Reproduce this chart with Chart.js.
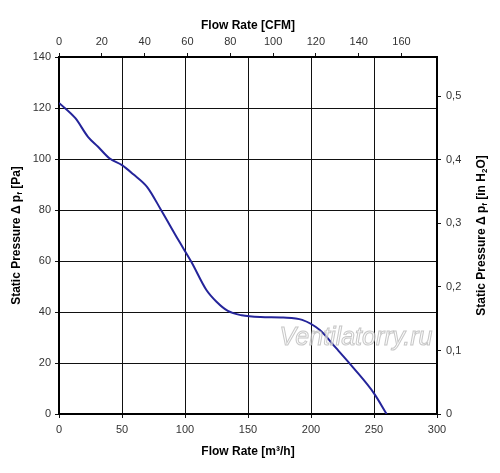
<!DOCTYPE html>
<html>
<head>
<meta charset="utf-8">
<script src="https://cdn.jsdelivr.net/npm/chart.js@4.4.1/dist/chart.umd.min.js"></script>
<style>
  html, body { margin: 0; padding: 0; background: #fff; }
  #wrap { width: 500px; height: 473px; }
</style>
</head>
<body>
<div id="wrap"><canvas id="fanChart" width="500" height="473"></canvas></div>
<script>
// fan curve: flow rate [m3/h] vs static pressure [Pa]
const flowRate = [0, 13, 23, 31, 40, 50, 59, 70, 81, 95, 105, 117, 125, 134, 145, 160, 178, 193, 207, 220, 234, 250, 260];
const pressure = [122, 116, 108.7, 104.8, 100.3, 97.6, 94, 89, 80, 68, 59.7, 48.6, 44, 40.4, 38.7, 38, 37.8, 36.9, 32.9, 25.8, 17.9, 8.1, 0];

const flowTicks = [0, 50, 100, 150, 200, 250, 300];
const pressureTicks = [0, 20, 40, 60, 80, 100, 120, 140];
const cfmTicks = [0, 20, 40, 60, 80, 100, 120, 140, 160];
const inchTicks = [0, 0.1, 0.2, 0.3, 0.4, 0.5];

const M3H_PER_CFM = 1.699;
const INH2O_PER_PA = 0.004015;

const FAMILY = "Liberation Sans, Arial, sans-serif";
const tickFont = { family: FAMILY, size: 11 };
const titleFont = { family: FAMILY, size: 12, weight: "bold" };

// vertical titles, both read bottom-to-top, with subscripts
const leftTitle = [["Static Pressure Δ p", false], ["f", true], [" [Pa]", false]];
const rightTitle = [["Static Pressure Δ p", false], ["f", true], [" [in H", false], ["2", true], ["O]", false]];

function drawVertical(ctx, parts, x, y) {
  const big = "bold 12px " + FAMILY;
  const small = "bold 8px " + FAMILY;
  let total = 0;
  parts.forEach(([t, sub]) => { ctx.font = sub ? small : big; total += ctx.measureText(t).width; });
  ctx.save();
  ctx.translate(x, y);
  ctx.rotate(-Math.PI / 2);
  ctx.fillStyle = "#000";
  ctx.textBaseline = "middle";
  ctx.textAlign = "left";
  let cx = -total / 2;
  parts.forEach(([t, sub]) => {
    ctx.font = sub ? small : big;
    ctx.fillText(t, cx, sub ? 3 : 0);
    cx += ctx.measureText(t).width;
  });
  ctx.restore();
}

const extras = {
  id: "extras",
  afterDatasetsDraw(chart) {
    const { ctx, chartArea } = chart;
    const midY = (chartArea.top + chartArea.bottom) / 2;
    drawVertical(ctx, leftTitle, 17, midY);
    drawVertical(ctx, rightTitle, 482, midY);

    ctx.save();
    ctx.font = "italic 25px " + FAMILY;
    ctx.textAlign = "center";
    ctx.textBaseline = "middle";
    ctx.fillStyle = "rgba(250,250,250,0.6)";
    ctx.fillText("Ventilatorry.ru", 356, 338);
    ctx.strokeStyle = "rgba(175,175,175,0.7)";
    ctx.lineWidth = 1;
    ctx.strokeText("Ventilatorry.ru", 356, 338);
    ctx.restore();
  },
};

new Chart(document.getElementById("fanChart"), {
  type: "line",
  data: {
    datasets: [
      {
        data: flowRate.map((x, i) => ({ x: x, y: pressure[i] })),
        borderColor: "#24249a",
        borderWidth: 2,
        pointRadius: 0,
        cubicInterpolationMode: "monotone",
        fill: false,
        xAxisID: "x",
        yAxisID: "y",
      },
    ],
  },
  options: {
    responsive: false,
    animation: false,
    layout: { padding: 0 },
    plugins: { legend: { display: false }, tooltip: { enabled: false } },
    scales: {
      x: {
        type: "linear",
        position: "bottom",
        min: 0,
        max: 300,
        afterBuildTicks: (s) => { s.ticks = flowTicks.map((v) => ({ value: v })); },
        afterFit: (s) => { s.height = 59; },
        ticks: { font: tickFont, color: "#333", padding: 5, maxRotation: 0 },
        grid: { color: "#111", lineWidth: 1, tickLength: 4 },
        border: { color: "#000", width: 2 },
        title: { display: true, text: "Flow Rate [m³/h]", font: titleFont, color: "#000", padding: { top: 0, bottom: 14 } },
      },
      x2: {
        type: "linear",
        position: "top",
        min: 0,
        max: 300 / M3H_PER_CFM,
        afterBuildTicks: (s) => { s.ticks = cfmTicks.map((v) => ({ value: v })); },
        afterFit: (s) => { s.height = 57; },
        ticks: { font: tickFont, color: "#333", padding: 4, maxRotation: 0 },
        grid: { drawOnChartArea: false, color: "#111", tickLength: 4 },
        border: { color: "#000", width: 2 },
        title: { display: true, text: "Flow Rate [CFM]", font: titleFont, color: "#000", padding: { top: 18, bottom: 0 } },
      },
      y: {
        type: "linear",
        position: "left",
        min: 0,
        max: 140,
        afterBuildTicks: (s) => { s.ticks = pressureTicks.map((v) => ({ value: v })); },
        afterFit: (s) => { s.width = 59; },
        ticks: { font: tickFont, color: "#333", padding: 4 },
        grid: { color: "#111", lineWidth: 1, tickLength: 4 },
        border: { color: "#000", width: 2 },
        title: { display: false },
      },
      y2: {
        type: "linear",
        position: "right",
        min: 0,
        max: 140 * INH2O_PER_PA,
        afterBuildTicks: (s) => { s.ticks = inchTicks.map((v) => ({ value: v })); },
        afterFit: (s) => { s.width = 63; },
        ticks: {
          font: tickFont,
          color: "#333",
          padding: 5,
          callback: (v) => (v === 0 ? "0" : v.toFixed(1).replace(".", ",")),
        },
        grid: { drawOnChartArea: false, color: "#111", tickLength: 4 },
        border: { color: "#000", width: 2 },
        title: { display: false },
      },
    },
  },
  plugins: [extras],
});
</script>
</body>
</html>
